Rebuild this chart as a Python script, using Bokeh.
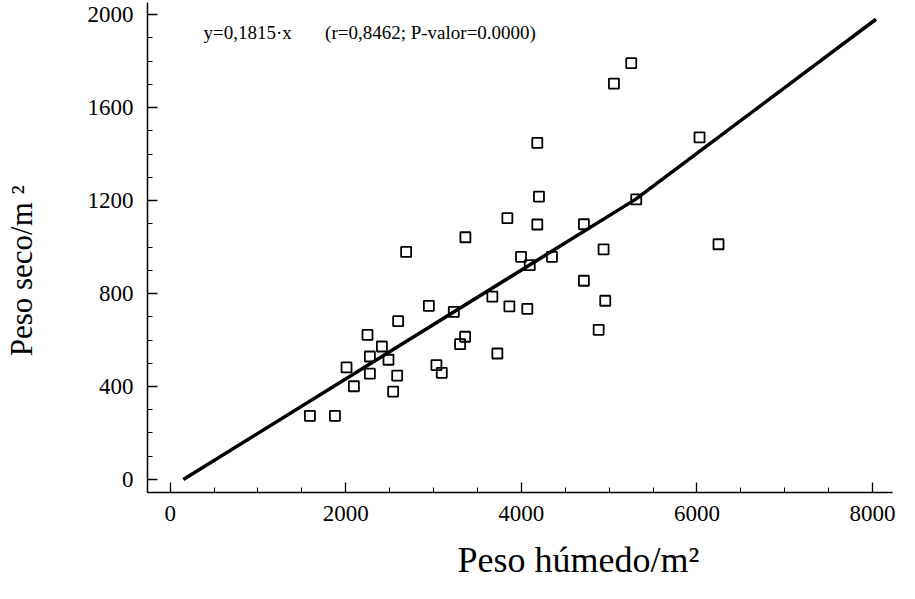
from bokeh.plotting import figure
from bokeh.models import SingleIntervalTicker, Label
from bokeh.embed import file_html
from bokeh.resources import INLINE

# Data
peso_humedo = [1592, 1877, 2009, 2093, 2248, 2275, 2275, 2412, 2487, 2540,
               2586, 2597, 2688, 2947, 3033, 3094, 3231, 3303, 3360, 3363,
               3670, 3727, 3841, 3864, 3997, 4068, 4096, 4182, 4182, 4201,
               4349, 4713, 4713, 4881, 4937, 4956, 5055, 5252, 5309, 6030, 6246]
peso_seco = [274, 274, 482, 401, 622, 529, 455, 572, 515, 378,
             447, 681, 979, 747, 492, 459, 721, 582, 614, 1042,
             787, 542, 1124, 745, 958, 734, 922, 1448, 1097, 1217,
             958, 1098, 855, 644, 990, 769, 1703, 1791, 1205, 1472, 1012]

# fitted line as drawn
fit_x = [150, 5300, 8040]
fit_y = [0, 1205, 1980]

equation = "y=0,1815\u00b7x" + "\u00a0" * 7 + "(r=0,8462; P-valor=0.0000)"
x_title = "Peso h\u00famedo/m\u00b2"
y_title = "Peso seco/m\u00a0\u00b2"
x_ticks_interval = 2000
y_ticks_interval = 400

FONT = "Liberation Serif"
NB = "\u00a0"

p = figure(width=899, height=583, output_backend="svg", toolbar_location=None,
           x_range=(-258, 8228), y_range=(-56, 2052),
           min_border_left=146, min_border_right=7, min_border_top=2, min_border_bottom=91)

p.outline_line_color = None
p.xgrid.visible = False
p.ygrid.visible = False
p.background_fill_color = "white"
p.border_fill_color = "white"

p.line(fit_x, fit_y, line_width=3.5, line_color="black")
p.scatter(peso_humedo, peso_seco, marker="square", size=10, fill_color=None,
          line_color="black", line_width=1.8)

p.add_layout(Label(x=380, y=1923, text=equation, text_font=FONT,
                   text_font_size="19px", text_baseline="middle", text_color="black"))

p.xaxis.ticker = SingleIntervalTicker(interval=x_ticks_interval, num_minor_ticks=4)
p.yaxis.ticker = SingleIntervalTicker(interval=y_ticks_interval, num_minor_ticks=4)

for ax in (p.xaxis[0], p.yaxis[0]):
    ax.axis_line_color = "black"
    ax.axis_line_width = 1.5
    ax.major_tick_in = 10
    ax.major_tick_out = 0
    ax.minor_tick_in = 5
    ax.minor_tick_out = 0
    ax.major_tick_line_color = "black"
    ax.minor_tick_line_color = "black"
    ax.major_tick_line_width = 1.3
    ax.minor_tick_line_width = 1.0
    ax.major_label_text_font = FONT
    ax.major_label_text_font_size = "23px"
    ax.major_label_text_color = "black"
    ax.axis_label_text_font = FONT
    ax.axis_label_text_font_style = "normal"
    ax.axis_label_text_color = "black"

# titles shifted off-centre as in the original (non-breaking space padding)
p.xaxis.axis_label = NB * 13 + x_title
p.yaxis.axis_label = y_title + NB * 6
p.xaxis.axis_label_text_font_size = "36px"
p.yaxis.axis_label_text_font_size = "31px"
p.xaxis.major_label_standoff = 13
p.yaxis.major_label_standoff = 14
p.xaxis.axis_label_standoff = 16
p.yaxis.axis_label_standoff = 46

open("out.html", "w").write(file_html(p, INLINE))
